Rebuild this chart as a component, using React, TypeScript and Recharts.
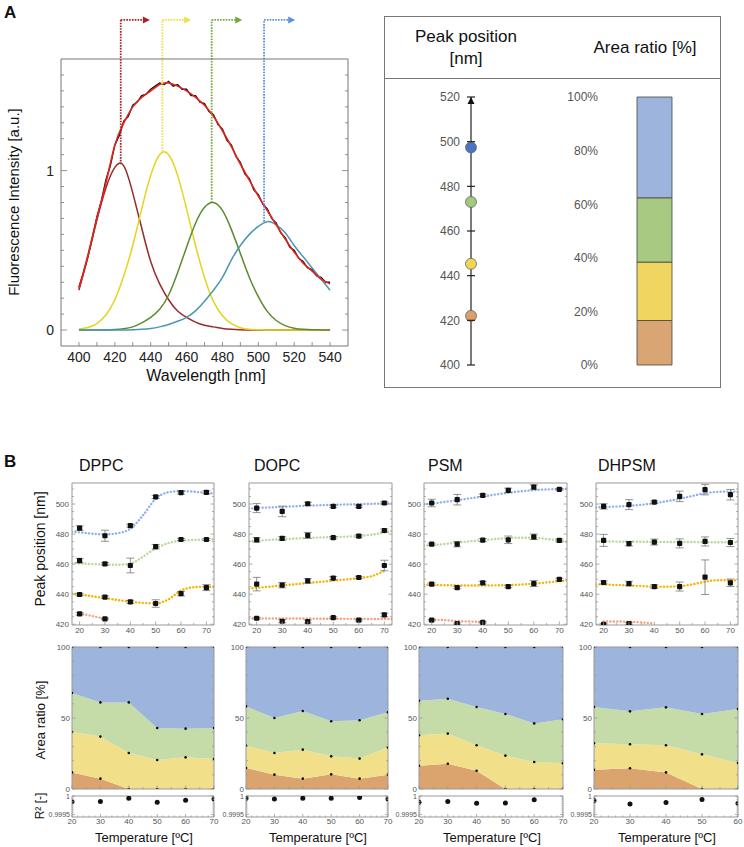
import React from 'react';
import {
  ComposedChart, LineChart, AreaChart, BarChart, Line, Area, Bar, Scatter, ErrorBar,
  XAxis, YAxis, ReferenceLine, ReferenceDot,
} from 'recharts';

const FONT = '"Liberation Sans", Arial, Helvetica, sans-serif';

// ---------- A: emission spectrum and its four-band decomposition
const wl = [400, 405, 410, 415, 420, 425, 430, 435, 440, 445, 450, 455, 460, 465, 470, 475, 480, 485, 490, 495, 500, 505, 510, 515, 520, 525, 530, 535, 540];
const fitTotal = [0.26, 0.47, 0.7, 0.92, 1.16, 1.3, 1.4, 1.46, 1.5, 1.54, 1.55, 1.53, 1.5, 1.46, 1.41, 1.34, 1.25, 1.15, 1.04, 0.94, 0.84, 0.75, 0.66, 0.57, 0.49, 0.42, 0.37, 0.32, 0.29];
const band1 = [0.25, 0.46, 0.69, 0.89, 1.02, 1.03, 0.86, 0.64, 0.43, 0.29, 0.19, 0.12, 0.08, 0.05, 0.03, 0.02, 0.01, 0.005, 0.002, 0, 0, 0, 0, 0, 0, 0, 0, 0, 0];
const band2 = [0.006, 0.016, 0.041, 0.094, 0.19, 0.34, 0.53, 0.76, 0.97, 1.1, 1.1, 0.97, 0.76, 0.53, 0.33, 0.18, 0.09, 0.04, 0.015, 0.005, 0.002, 0, 0, 0, 0, 0, 0, 0, 0];
const band3 = [0, 0, 0, 0.001, 0.003, 0.008, 0.02, 0.045, 0.08, 0.13, 0.22, 0.36, 0.52, 0.67, 0.77, 0.8, 0.75, 0.63, 0.48, 0.33, 0.21, 0.117, 0.06, 0.028, 0.012, 0.005, 0.002, 0.001, 0];
const band4 = [0, 0, 0, 0, 0, 0, 0.002, 0.005, 0.01, 0.02, 0.035, 0.055, 0.08, 0.12, 0.18, 0.25, 0.33, 0.44, 0.53, 0.6, 0.65, 0.68, 0.66, 0.61, 0.53, 0.46, 0.39, 0.32, 0.25];
const wlRaw = [400, 402.5, 405, 407.5, 410, 412.5, 415, 417.5, 420, 422.5, 425, 427.5, 430, 432.5, 435, 437.5, 440, 442.5, 445, 447.5, 450, 452.5, 455, 457.5, 460, 462.5, 465, 467.5, 470, 472.5, 475, 477.5, 480, 482.5, 485, 487.5, 490, 492.5, 495, 497.5, 500, 502.5, 505, 507.5, 510, 512.5, 515, 517.5, 520, 522.5, 525, 527.5, 530, 532.5, 535, 537.5, 540];
const rawSignal = [0.27, 0.36, 0.46, 0.58, 0.71, 0.81, 0.94, 1.03, 1.16, 1.22, 1.31, 1.34, 1.41, 1.43, 1.47, 1.48, 1.51, 1.53, 1.55, 1.54, 1.56, 1.53, 1.54, 1.51, 1.51, 1.47, 1.47, 1.43, 1.42, 1.37, 1.35, 1.29, 1.26, 1.19, 1.16, 1.09, 1.05, 0.98, 0.95, 0.88, 0.85, 0.79, 0.76, 0.7, 0.67, 0.61, 0.58, 0.52, 0.5, 0.45, 0.43, 0.39, 0.38, 0.34, 0.33, 0.3, 0.3];
const peakNm = [423.3, 446.5, 474, 503.2];
const peakTop = [1.04, 1.12, 0.8, 0.68];
const arrowTo = [439, 462, 490.5, 520];
const arrowY = 1.945;

// ---------- A: read-out of the example (orange, yellow, green, blue)
const readPeak = [422, 445.3, 473, 497.4];
const readArea = [16.6, 21.8, 24.0, 37.6];

// ---------- B: temperature series, rows = blue, green, yellow, orange
const temps = [20, 30, 40, 50, 60, 70];
const temps5 = [20, 30, 40, 50, 60];
const fitT = [17, 20, 25, 30, 35, 40, 45, 50, 55, 60, 65, 70, 73];

const dppcPeak = [
  [484, 478.9, 485.6, 504.7, 507.6, 507.8],
  [462.4, 460.2, 459.1, 471.6, 476.4, 476.4],
  [439.8, 438, 434.9, 433.8, 440.4, 444.4],
  [426.9, 423.6, null, null, null, null],
];
const dppcErr = [
  [1.5, 3.7, 1, 1, 1, 1],
  [1.5, 0.8, 4.9, 1.5, 0.7, 0.7],
  [0.8, 0.8, 1, 2.5, 1.5, 2],
  [0.8, 0.5, 0, 0, 0, 0],
];
const dppcFit = [
  [481.5, 481.2, 480.2, 479.8, 480.6, 483.5, 492.5, 503.5, 507.8, 508.6, 508.2, 507.4, 507.0],
  [460.8, 460.5, 460.0, 459.7, 459.6, 460.3, 465.0, 470.5, 474.0, 475.6, 476.1, 476.4, 476.6],
  [440.4, 439.9, 438.6, 437.4, 436.1, 435.0, 434.2, 433.9, 436.5, 442.5, 444.6, 445.0, 445.0],
  [null, 427.3, 425.5, 423.6, null, null, null, null, null, null, null, null, null],
];
const dppcArea = [
  [11.7, 7.3, 0, 0, 0, 0],
  [28.4, 29.6, 25.4, 20.4, 22.3, 21.1],
  [27.5, 24.1, 35.6, 22.6, 20.2, 21.9],
  [32.4, 39.0, 39.0, 57.0, 57.5, 57.0],
];
const dppcR2 = [0.999844, 0.999854, 0.999938, 0.999833, 0.999885, 0.999917];

const dopcPeak = [
  [497.3, 495.1, 500.2, 498.4, 498.4, 500.7],
  [476.2, 477.1, 479.1, 477.6, 478.7, 482.4],
  [446.7, 446, 448.9, 450.7, 451.1, 459.1],
  [424, 422, 421.8, 424.4, 422.7, 426.2],
];
const dopcErr = [
  [3, 3.5, 1, 0.8, 0.8, 0.8],
  [1.5, 1.2, 2, 0.8, 0.8, 1],
  [4.5, 1.8, 1.5, 1, 0.8, 3.5],
  [0.6, 1, 1, 0.6, 0.6, 1.2],
];
const dopcFit = [
  [497.0, 497.3, 497.7, 498.1, 498.5, 498.9, 499.2, 499.5, 499.7, 499.9, 500.1, 500.3, 500.4],
  [475.3, 475.6, 476.1, 476.6, 477.0, 477.4, 477.7, 478.0, 478.3, 478.8, 479.6, 481.0, 482.2],
  [443.8, 444.2, 445.0, 445.8, 446.6, 447.4, 448.2, 449.0, 449.8, 450.7, 452.0, 455.5, null],
  [423.9, 423.9, 423.9, 423.8, 423.8, 423.8, 423.7, 423.7, 423.6, 423.6, 423.5, 423.5, 423.5],
];
const dopcArea = [
  [14.8, 10.1, 7.3, 10.3, 7.3, 10.1],
  [15.7, 15.3, 20.4, 12.7, 14.1, 19.2],
  [27.7, 24.6, 27.2, 24.7, 27.0, 24.7],
  [41.8, 50.0, 45.1, 52.3, 51.6, 46.0],
];
const dopcR2 = [0.999938, 0.999917, 0.999938, 0.999938, 0.999958, 0.999917];

const psmPeak = [
  [500.7, 502.9, 505.8, 509.1, 511.3, 509.8],
  [473.3, 473.3, 476, 476.2, 478.2, 475.8],
  [446.7, 444.4, 447.6, 445.1, 447.1, 449.8],
  [422.7, 420.4, 421.3, null, null, null],
];
const psmErr = [
  [2.5, 3.5, 0.8, 1.5, 1.5, 0.6],
  [0.7, 1.8, 1, 2.5, 1.8, 1],
  [0.8, 0.8, 1, 0.8, 2, 0.8],
  [0.5, 0.5, 0.5, 0, 0, 0],
];
const psmFit = [
  [499.8, 500.3, 501.4, 502.5, 503.8, 505.0, 506.3, 507.5, 508.5, 509.2, 509.7, 510.0, 510.1],
  [472.2, 472.6, 473.4, 474.3, 475.2, 476.0, 476.7, 477.3, 477.6, 477.5, 476.8, 475.6, 474.8],
  [446.4, 446.2, 446.0, 445.9, 445.8, 445.8, 445.9, 446.0, 446.4, 447.0, 447.8, 448.6, 449.2],
  [null, 423.2, 422.7, 422.2, 421.8, 421.4, null, null, null, null, null, null, null],
];
const psmArea = [
  [16.4, 17.8, 12.9, 0, 0, 0],
  [21.4, 21.2, 17.9, 23.5, 19.0, 18.1],
  [24.4, 24.6, 26.9, 29.3, 27.2, 31.0],
  [37.8, 36.4, 42.3, 47.2, 53.8, 50.9],
];
const psmR2 = [0.999833, 0.999854, 0.999802, 0.999813, 0.999896];

const dhpsmPeak = [
  [498.4, 499.6, 501.3, 505.1, 509.6, 506.2],
  [475.8, 473.6, 474.7, 473.8, 475.1, 474.4],
  [447.8, 447.1, 445.1, 445.1, 451.3, 447.6],
  [420, 420.4, null, null, null, null],
];
const dhpsmErr = [
  [1.8, 3.3, 0.8, 3.5, 3.5, 3.5],
  [4, 1.5, 2, 3, 3, 2.7],
  [1, 1.5, 1.2, 3, 11.5, 2.5],
  [0.4, 0.6, 0, 0, 0, 0],
];
const dhpsmFit = [
  [497.8, 498.0, 498.3, 498.8, 499.5, 500.5, 501.9, 503.5, 505.4, 507.2, 508.1, 508.3, 508.0],
  [475.1, 475.1, 475.0, 474.9, 474.9, 474.8, 474.8, 474.7, 474.7, 474.6, 474.6, 474.5, 474.5],
  [446.7, 446.4, 446.1, 445.8, 445.4, 445.0, 445.0, 445.3, 446.5, 448.3, 449.3, 449.3, 448.9],
  [null, 421.8, 421.8, 421.7, 421.2, 420.5, null, null, null, null, null, null, null],
];
const dhpsmArea = [
  [13.6, 14.6, 11.7, 0, 0],
  [18.6, 16.9, 19.1, 24.4, 18.3],
  [25.5, 23.2, 26.7, 28.4, 38.0],
  [42.3, 45.3, 42.5, 47.2, 43.7],
];
const dhpsmR2 = [0.999875, 0.999781, 0.999823, 0.999906, 0.999802];

// ---------- colours
const bandColors = ['#962c2c', '#e3d51c', '#5b8b2d', '#4b96b2'];
const arrowColors = ['#a52323', '#eee04a', '#70aa38', '#5b8fdd'];
const readDot = ['#dd9e68', '#f3d452', '#a3c97c', '#4a72c7'];
const readBar = ['#d9a673', '#f0d660', '#a7c981', '#9db5dd'];
const fitColors = ['#8fb1ea', '#b8d99b', '#f2b600', '#f2a27c'];
const areaColors = ['#dba46f', '#f2df8a', '#c5dca9', '#9db4dd'];

const pts = (xs: number[], ys: (number | null)[], es?: number[]) =>
  xs.map((x, i) => ({ x, y: ys[i], e: es ? es[i] : 0 }));

// ---------- inward frame ticks (Mathematica style)
type Side = 'bottom' | 'top' | 'left' | 'right';
type TickStyle = { major: number[]; len: number; majorLen: number; fs: number; gap: number; stroke: string; color: string };
const isIn = (arr: number[], v: number) => arr.some((m) => Math.abs(m - v) < 1e-7);

function makeTick(side: Side, s: TickStyle, fmt?: (v: number) => string) {
  return (p: any) => {
    const v = Number(p.payload?.value);
    const major = isIn(s.major, v);
    const L = major ? s.majorLen : s.len;
    const x = Number(p.x);
    const y = Number(p.y);
    const txt = major && fmt ? fmt(v) : null;
    let d = '';
    let label: React.ReactNode = null;
    if (side === 'bottom') {
      d = `M${x},${y}V${y - L}`;
      if (txt) label = <text x={x} y={y + s.gap + s.fs * 0.72} textAnchor="middle">{txt}</text>;
    } else if (side === 'top') {
      d = `M${x},${y}V${y + L}`;
    } else if (side === 'left') {
      d = `M${x},${y}H${x + L}`;
      if (txt) label = <text x={x - s.gap} y={y + s.fs * 0.36} textAnchor="end">{txt}</text>;
    } else {
      d = `M${x},${y}H${x - L}`;
    }
    return (
      <g>
        <path d={d} stroke={s.stroke} strokeWidth={0.8} fill="none" />
        {label && <g fill={s.color} stroke="none" fontSize={s.fs} fontFamily={FONT}>{label}</g>}
      </g>
    );
  };
}

// the four axes take the place of the chart margins: m = [top, right, bottom, left]
function frameAxes(o: {
  m: number[]; dataKey: string; xDom: number[]; yDom: number[]; xTicks: number[]; yTicks: number[];
  xs: TickStyle; ys: TickStyle; xFmt?: (v: number) => string; yFmt?: (v: number) => string; stroke: string;
}) {
  const base = {
    type: 'number' as const, allowDataOverflow: true, tickLine: false, tickSize: 0, tickMargin: 0,
    interval: 0 as const, axisLine: { stroke: o.stroke, strokeWidth: 1 },
  };
  return [
    <XAxis key="xb" xAxisId="b" dataKey={o.dataKey} orientation="bottom" height={o.m[2]} domain={o.xDom} ticks={o.xTicks} tick={makeTick('bottom', o.xs, o.xFmt)} {...base} />,
    <XAxis key="xt" xAxisId="t" orientation="top" height={o.m[0]} domain={o.xDom} ticks={o.xTicks} tick={makeTick('top', o.xs)} {...base} />,
    <YAxis key="yl" yAxisId="l" orientation="left" width={o.m[3]} domain={o.yDom} ticks={o.yTicks} tick={makeTick('left', o.ys, o.yFmt)} {...base} />,
    <YAxis key="yr" yAxisId="r" orientation="right" width={o.m[1]} domain={o.yDom} ticks={o.yTicks} tick={makeTick('right', o.ys)} {...base} />,
  ];
}

const ZERO = { top: 0, right: 0, bottom: 0, left: 0 };
const str = (v: number) => String(v);

// ---------- panel A, spectrum
function Spectrum() {
  const bands = [band1, band2, band3, band4];
  const xs: TickStyle = { major: [400, 420, 440, 460, 480, 500, 520, 540], len: 4, majorLen: 4, fs: 14, gap: 6, stroke: '#777', color: '#222' };
  const ys: TickStyle = { major: [0, 1], len: 3, majorLen: 6, fs: 14, gap: 7, stroke: '#777', color: '#222' };
  return (
    <div style={{ position: 'absolute', left: 0, top: 0 }}>
      <LineChart width={370} height={390} margin={ZERO}>
        {frameAxes({
          m: [59, 22, 44, 61],
          dataKey: 'x', xDom: [390, 550], yDom: [-0.1, 1.7],
          xTicks: [400, 410, 420, 430, 440, 450, 460, 470, 480, 490, 500, 510, 520, 530, 540],
          yTicks: [0, 0.1, 0.2, 0.3, 0.4, 0.5, 0.6, 0.7, 0.8, 0.9, 1, 1.1, 1.2, 1.3, 1.4, 1.5, 1.6],
          xs, ys, xFmt: str, yFmt: str, stroke: '#777',
        })}
        <Line xAxisId="b" yAxisId="l" data={pts(wlRaw, rawSignal)} dataKey="y" type="linear" stroke="#111" strokeWidth={1.4} dot={false} isAnimationActive={false} />
        {bands.map((b, i) => (
          <Line key={'band' + i} xAxisId="b" yAxisId="l" data={pts(wl, b)} dataKey="y" type="natural" stroke={bandColors[i]} strokeWidth={1.5} dot={false} isAnimationActive={false} />
        ))}
        <Line xAxisId="b" yAxisId="l" data={pts(wl, fitTotal)} dataKey="y" type="natural" stroke="#e8221c" strokeWidth={1.6} dot={false} isAnimationActive={false} />
        {peakNm.map((nm, i) => (
          <ReferenceLine key={'v' + i} xAxisId="b" yAxisId="l" ifOverflow="visible"
            segment={[{ x: nm, y: peakTop[i] }, { x: nm, y: arrowY }]}
            stroke={arrowColors[i]} strokeWidth={1.8} strokeDasharray="1.6 1.2" />
        ))}
        {peakNm.map((nm, i) => (
          <ReferenceLine key={'h' + i} xAxisId="b" yAxisId="l" ifOverflow="visible"
            segment={[{ x: nm, y: arrowY }, { x: arrowTo[i] - 2, y: arrowY }]}
            stroke={arrowColors[i]} strokeWidth={1.8} strokeDasharray="1.6 1.2" />
        ))}
        {arrowTo.map((x, i) => (
          <ReferenceDot key={'a' + i} xAxisId="b" yAxisId="l" x={x} y={arrowY} ifOverflow="visible"
            shape={(p: any) => <path d={`M${p.cx - 6},${p.cy - 3.5}L${p.cx + 1},${p.cy}L${p.cx - 6},${p.cy + 3.5}Z`} fill={arrowColors[i]} />} />
        ))}
      </LineChart>
    </div>
  );
}

// ---------- panel A, read-out box
function Readout() {
  const peakRows = readPeak.map((y, i) => ({ x: 0, y, c: readDot[i] }));
  const barRow = [{ k: 's', o: readArea[0], y: readArea[1], g: readArea[2], b: readArea[3] }];
  const keys = ['o', 'y', 'g', 'b'];
  return (
    <>
      <div style={{ position: 'absolute', left: 384, top: 16, width: 335, height: 370, border: '1px solid #777' }} />
      <div style={{ position: 'absolute', left: 385, top: 78, width: 335, height: 0, borderTop: '1px solid #777' }} />
      <div style={{ position: 'absolute', left: 386, width: 160, top: 26, textAlign: 'center', fontSize: 17, lineHeight: '22px', color: '#111' }}>
        Peak position<br />[nm]
      </div>
      <div style={{ position: 'absolute', left: 560, width: 170, top: 37, textAlign: 'center', fontSize: 17, lineHeight: '22px', color: '#111' }}>
        Area ratio [%]
      </div>
      <div style={{ position: 'absolute', left: 400, top: 90 }}>
        <ComposedChart width={120} height={290} margin={{ top: 7, right: 40, bottom: 15, left: 0 }}>
          <XAxis xAxisId="x" dataKey="x" type="number" domain={[0, 1]} hide />
          <YAxis yAxisId="y" type="number" domain={[400, 520]} ticks={[400, 420, 440, 460, 480, 500, 520]} width={71}
            interval={0} tickLine={false} tickSize={0} tickMargin={0} axisLine={{ stroke: '#222', strokeWidth: 1.2 }}
            tick={(p: any) => (
              <g>
                <path d={`M${p.x - 4},${p.y}H${p.x + 4}`} stroke="#222" strokeWidth={1.2} />
                <text x={p.x - 11} y={p.y + 4.3} textAnchor="end" fontSize={12} fill="#555" fontFamily={FONT}>{p.payload.value}</text>
              </g>
            )} />
          <ReferenceDot xAxisId="x" yAxisId="y" x={0} y={520} ifOverflow="visible"
            shape={(p: any) => <path d={`M${p.cx - 3.5},${p.cy + 7}L${p.cx},${p.cy}L${p.cx + 3.5},${p.cy + 7}Z`} fill="#111" />} />
          <Scatter xAxisId="x" yAxisId="y" data={peakRows} dataKey="y" isAnimationActive={false}
            shape={(p: any) => <circle cx={p.cx} cy={p.cy} r={5.5} fill={p.payload.c} stroke="#666" strokeWidth={0.8} />} />
        </ComposedChart>
      </div>
      <div style={{ position: 'absolute', left: 560, top: 90 }}>
        <BarChart width={140} height={290} data={barRow} margin={{ top: 7, right: 28, bottom: 15, left: 0 }} barCategoryGap={0}>
          <XAxis dataKey="k" hide />
          <YAxis type="number" domain={[0, 100]} ticks={[0, 20, 40, 60, 80, 100]} width={77} interval={0}
            axisLine={false} tickLine={false} tickSize={0} tickMargin={0}
            tick={(p: any) => <text x={p.x - 39} y={p.y + 4.3} textAnchor="end" fontSize={12} fill="#555" fontFamily={FONT}>{p.payload.value + '%'}</text>} />
          {keys.map((k, i) => (
            <Bar key={k} dataKey={k} stackId="a" fill={readBar[i]} stroke="#444" strokeWidth={0.8} isAnimationActive={false} />
          ))}
        </BarChart>
      </div>
    </>
  );
}

// ---------- panel B plots
const bTick = { stroke: '#999', color: '#555' };

function PeakPlot({ left, right, peak, err, fit }: { left: number; right: number; peak: (number | null)[][]; err: number[][]; fit: (number | null)[][] }) {
  const ml = 34, mr = 4, mt = 4, mb = 14, top = 483, bottom = 625;
  const xs: TickStyle = { major: [20, 30, 40, 50, 60, 70], len: 2, majorLen: 3.5, fs: 8, gap: 2, ...bTick };
  const ys: TickStyle = { major: [420, 440, 460, 480, 500], len: 2, majorLen: 3.5, fs: 8, gap: 3, ...bTick };
  const square = (p: any) => <rect x={p.cx - 2.6} y={p.cy - 2.6} width={5.2} height={5.2} rx={1} fill="#111" />;
  return (
    <div style={{ position: 'absolute', left: left - ml, top: top - mt }}>
      <ComposedChart width={right - left + ml + mr} height={bottom - top + mt + mb} margin={ZERO}>
        {frameAxes({
          m: [mt, mr, mb, ml],
          dataKey: 'x', xDom: [17, 73], yDom: [419.5, 514],
          xTicks: [20, 25, 30, 35, 40, 45, 50, 55, 60, 65, 70],
          yTicks: [420, 425, 430, 435, 440, 445, 450, 455, 460, 465, 470, 475, 480, 485, 490, 495, 500, 505, 510],
          xs, ys, xFmt: str, yFmt: str, stroke: '#999',
        })}
        {fit.map((f, i) => (
          <Line key={'f' + i} xAxisId="b" yAxisId="l" data={pts(fitT, f)} dataKey="y" type="monotone"
            stroke={fitColors[i]} strokeWidth={2.4} strokeDasharray="0.1 3.3" strokeLinecap="round" dot={false} isAnimationActive={false} />
        ))}
        {peak.map((row, i) => (
          <Scatter key={'s' + i} xAxisId="b" yAxisId="l" data={pts(temps, row, err[i]).filter((d) => d.y != null)} dataKey="y" shape={square} isAnimationActive={false}>
            <ErrorBar dataKey="e" direction="y" width={4} stroke="#777" strokeWidth={0.8} />
          </Scatter>
        ))}
      </ComposedChart>
    </div>
  );
}

function AreaPlot({ left, right, t, area }: { left: number; right: number; t: number[]; area: number[][] }) {
  const ml = 30, mr = 4, mt = 4, mb = 4, top = 647, bottom = 789;
  const rows = t.map((x, i) => ({ x, o: area[0][i], y: area[1][i], g: area[2][i], b: area[3][i] }));
  const keys = ['o', 'y', 'g', 'b'];
  const xMax = t[t.length - 1];
  const xTicks = [20, 25, 30, 35, 40, 45, 50, 55, 60, 65, 70].filter((v) => v <= xMax);
  const xs: TickStyle = { major: [20, 30, 40, 50, 60, 70], len: 2, majorLen: 3.5, fs: 8, gap: 2, ...bTick };
  const ys: TickStyle = { major: [0, 50, 100], len: 2, majorLen: 3.5, fs: 8, gap: 2, ...bTick };
  return (
    <div style={{ position: 'absolute', left: left - ml, top: top - mt }}>
      <AreaChart width={right - left + ml + mr} height={bottom - top + mt + mb} data={rows} margin={ZERO}>
        {keys.map((k, i) => (
          <Area key={k} xAxisId="b" yAxisId="l" dataKey={k} stackId="a" type="linear" stroke="none" fill={areaColors[i]} fillOpacity={1}
            dot={{ r: 1.3, fill: '#111', stroke: 'none' }} isAnimationActive={false} />
        ))}
        {frameAxes({
          m: [mt, mr, mb, ml],
          dataKey: 'x', xDom: [20, xMax], yDom: [0, 100], xTicks,
          yTicks: [0, 10, 20, 30, 40, 50, 60, 70, 80, 90, 100],
          xs, ys, yFmt: str, stroke: '#999',
        })}
      </AreaChart>
    </div>
  );
}

function R2Plot({ left, right, t, r2, xMax }: { left: number; right: number; t: number[]; r2: number[]; xMax: number }) {
  const ml = 34, mr = 8, mt = 4, mb = 12, top = 796, bottom = 817;
  const xTicks: number[] = [];
  for (let v = 20; v <= xMax; v += 2) xTicks.push(v);
  const xs: TickStyle = { major: [20, 30, 40, 50, 60, 70], len: 1.5, majorLen: 3, fs: 8, gap: 1, ...bTick };
  const ys: TickStyle = { major: [0.9995, 1], len: 1.5, majorLen: 3, fs: 7, gap: 2, ...bTick };
  return (
    <div style={{ position: 'absolute', left: left - ml, top: top - mt }}>
      <ComposedChart width={right - left + ml + mr} height={bottom - top + mt + mb} margin={ZERO}>
        {frameAxes({
          m: [mt, mr, mb, ml],
          dataKey: 'x', xDom: [20, xMax], yDom: [0.99943, 1], xTicks,
          yTicks: [0.99945, 0.9995, 0.99955, 0.9996, 0.99965, 0.9997, 0.99975, 0.9998, 0.99985, 0.9999, 0.99995, 1],
          xs, ys, xFmt: str, yFmt: str, stroke: '#999',
        })}
        <Scatter xAxisId="b" yAxisId="l" data={pts(t, r2)} dataKey="y" isAnimationActive={false}
          shape={(p: any) => <circle cx={p.cx} cy={p.cy} r={2.5} fill="#111" />} />
      </ComposedChart>
    </div>
  );
}

const columns = [
  { name: 'DPPC', titleX: 79, top: [72, 214], low: [72, 214], peak: dppcPeak, err: dppcErr, fit: dppcFit, area: dppcArea, areaT: temps, r2: dppcR2, r2T: temps },
  { name: 'DOPC', titleX: 254, top: [249, 392], low: [246, 388], peak: dopcPeak, err: dopcErr, fit: dopcFit, area: dopcArea, areaT: temps, r2: dopcR2, r2T: temps },
  { name: 'PSM', titleX: 428, top: [424, 567], low: [419, 563], peak: psmPeak, err: psmErr, fit: psmFit, area: psmArea, areaT: temps, r2: psmR2, r2T: temps5 },
  { name: 'DHPSM', titleX: 598, top: [596, 738], low: [594, 738], peak: dhpsmPeak, err: dhpsmErr, fit: dhpsmFit, area: dhpsmArea, areaT: temps5, r2: dhpsmR2, r2T: temps5 },
];

const rot = (cx: number, cy: number, fs: number): React.CSSProperties => ({
  position: 'absolute', left: cx, top: cy, transform: 'translate(-50%, -50%) rotate(-90deg)',
  whiteSpace: 'nowrap', fontSize: fs, color: '#111', lineHeight: 1,
});

export default function App() {
  return (
    <div style={{ position: 'absolute', left: 0, top: 0, width: 744, height: 847, background: '#fff', fontFamily: FONT, overflow: 'hidden' }}>
      <div style={{ position: 'absolute', left: 4, top: 3, fontSize: 17, fontWeight: 'bold', color: '#111' }}>A</div>
      <Spectrum />
      <div style={rot(13, 202, 15)}>Fluorescence Intensity [a.u.]</div>
      <div style={{ position: 'absolute', left: 106, width: 200, top: 368, textAlign: 'center', fontSize: 16, color: '#111', lineHeight: 1 }}>Wavelength [nm]</div>
      <Readout />

      <div style={{ position: 'absolute', left: 4, top: 452, fontSize: 17, fontWeight: 'bold', color: '#111' }}>B</div>
      <div style={rot(40, 549, 14)}>Peak position [nm]</div>
      <div style={rot(40, 720, 13)}>Area ratio [%]</div>
      <div style={rot(40, 806, 12)}>R² [-]</div>
      {columns.map((c) => (
        <React.Fragment key={c.name}>
          <div style={{ position: 'absolute', left: c.titleX, top: 458, fontSize: 16, color: '#111', lineHeight: 1 }}>{c.name}</div>
          <PeakPlot left={c.top[0]} right={c.top[1]} peak={c.peak} err={c.err} fit={c.fit} />
          <AreaPlot left={c.low[0]} right={c.low[1]} t={c.areaT} area={c.area} />
          <R2Plot left={c.low[0]} right={c.low[1]} t={c.r2T} r2={c.r2} xMax={c.areaT[c.areaT.length - 1]} />
          <div style={{ position: 'absolute', left: (c.low[0] + c.low[1]) / 2 - 80, width: 162, top: 831, textAlign: 'center', fontSize: 13, color: '#111', lineHeight: 1 }}>
            Temperature [ºC]
          </div>
        </React.Fragment>
      ))}
    </div>
  );
}
